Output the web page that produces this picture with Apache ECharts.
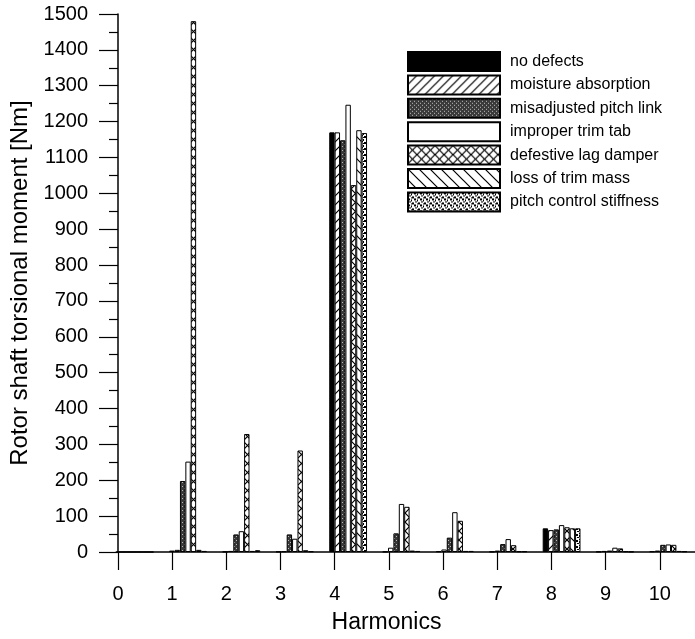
<!DOCTYPE html>
<html>
<head>
<meta charset="utf-8">
<script src="https://cdn.jsdelivr.net/npm/echarts@6/dist/echarts.min.js"></script>
<style>
html,body{margin:0;padding:0;background:#fff;}
#chart{width:695px;height:639px;}
</style>
</head>
<body>
<div id="chart"></div>
<script>
// ---- data ----
const harmonics = ['0','1','2','3','4','5','6','7','8','9','10'];
const xTickLabels = [0,1,2,3,4,5,6,7,8,9,10];
const yTickLabels = [0,100,200,300,400,500,600,700,800,900,1000,1100,1200,1300,1400,1500];
const seriesNames = ['no defects','moisture absorption','misadjusted pitch link','improper trim tab','defestive lag damper','loss of trim mass','pitch control stiffness'];
const noDefects    = [0, 4, 1, 1, 1170, 1, 2, 1, 66, 1, 2];
const moisture     = [0, 6, 3, 2, 1170, 12, 7, 4, 61, 3, 4];
const misadjusted  = [0, 198, 49, 49, 1148, 52, 40, 22, 63, 4, 20];
const improperTab  = [0, 252, 58, 37, 1247, 134, 111, 36, 75, 12, 21];
const lagDamper    = [0, 1480, 329, 283, 1023, 126, 87, 19, 69, 10, 20];
const lossTrimMass = [0, 6, 3, 5, 1176, 4, 3, 2, 66, 2, 3];
const pitchControl = [0, 3, 5, 2, 1168, 3, 3, 2, 66, 1, 2];
const seriesValues = [noDefects, moisture, misadjusted, improperTab, lagDamper, lossTrimMass, pitchControl];

// ---- patterns ----
function makePattern(size, bg, draw){
  const c = document.createElement('canvas');
  c.width = size; c.height = size;
  const ctx = c.getContext('2d');
  ctx.fillStyle = bg; ctx.fillRect(0,0,size,size);
  ctx.strokeStyle = '#000'; ctx.fillStyle = '#000'; ctx.lineWidth = 1.2;
  draw(ctx, size);
  return {image: c, repeat: 'repeat'};
}
function fwd(ctx,s){ ctx.beginPath(); ctx.moveTo(-1,s+1); ctx.lineTo(s+1,-1); ctx.moveTo(-1,1); ctx.lineTo(1,-1); ctx.moveTo(s-1,s+1); ctx.lineTo(s+1,s-1); ctx.stroke(); }
function back(ctx,s){ ctx.beginPath(); ctx.moveTo(-1,-1); ctx.lineTo(s+1,s+1); ctx.moveTo(s-1,-1); ctx.lineTo(s+1,1); ctx.moveTo(-1,s-1); ctx.lineTo(1,s+1); ctx.stroke(); }
const fills = [
  '#000000',
  makePattern(9, '#fff', fwd),
  makePattern(4, '#3a3a3a', function(ctx){ ctx.fillStyle='#bbbbbb'; ctx.fillRect(0,0,1,1); ctx.fillRect(2,2,1,1); }),
  '#ffffff',
  makePattern(9, '#fff', function(ctx,s){ fwd(ctx,s); back(ctx,s); }),
  makePattern(11, '#fff', back),
  makePattern(6, '#fff', function(ctx){ ctx.fillRect(0,0,2,2); ctx.fillRect(3,1,1,2); ctx.fillRect(1,3,2,1); ctx.fillRect(4,4,2,2); ctx.fillRect(3,5,1,1); })
];

const FONT = '"Liberation Sans", Arial, Helvetica, sans-serif';
const chart = echarts.init(document.getElementById('chart'), null, {renderer:'canvas'});

const option = {
  animation: false,
  backgroundColor: '#fff',
  textStyle: {fontFamily: FONT, color: '#000'},
  grid: [
    {left: 118, right: 0, top: 14, bottom: 87, containLabel: false},
    {left: 108, width: 596, top: 14, bottom: 87, containLabel: false}
  ],
  legend: {
    orient: 'vertical', left: 402, top: 46,
    itemWidth: 92, itemHeight: 19, itemGap: 2.4,
    icon: 'rect',
    data: seriesNames,
    textStyle: {fontFamily: FONT, fontSize: 16, lineHeight: 19, color: '#000', padding: [0,0,0,5]}
  },
  xAxis: [
    {
      type: 'value', gridIndex: 0, min: 0, max: 10.65, interval: 1,
      name: 'Harmonics', nameLocation: 'middle', nameGap: 59,
      nameTextStyle: {fontFamily: FONT, fontSize: 23, color: '#000', padding: [0, 40, 0, 0]},
      axisLine: {show: true, lineStyle: {color: '#000', width: 1.5}},
      axisTick: {show: true, length: 18, lineStyle: {color: '#000', width: 1.2}, customValues: xTickLabels},
      axisLabel: {fontFamily: FONT, fontSize: 20, color: '#000', margin: 32, customValues: xTickLabels,
        formatter: function(v){ return String(v); }},
      splitLine: {show: false}
    },
    {type: 'category', gridIndex: 1, data: harmonics, show: false}
  ],
  yAxis: [
    {
      type: 'value', gridIndex: 0, min: 0, max: 1500, interval: 100,
      name: 'Rotor shaft torsional moment [Nm]', nameLocation: 'middle', nameGap: 78,
      nameTextStyle: {fontFamily: FONT, fontSize: 24, color: '#000'},
      axisLine: {show: true, lineStyle: {color: '#000', width: 1.5}},
      axisTick: {show: true, length: 19, lineStyle: {color: '#000', width: 1.2}, customValues: yTickLabels},
      minorTick: {show: true, splitNumber: 2, length: 9, lineStyle: {color: '#000', width: 1.2}},
      axisLabel: {fontFamily: FONT, fontSize: 20, color: '#000', margin: 30, customValues: yTickLabels,
        formatter: function(v){ return String(v); }},
      splitLine: {show: false}
    },
    {type: 'value', gridIndex: 1, min: 0, max: 1500, show: false}
  ],
  series: seriesNames.map(function(name, i){
    return {
      name: name, type: 'bar',
      xAxisIndex: 1, yAxisIndex: 1,
      data: seriesValues[i],
      barWidth: 5.4, barGap: '0%',
      itemStyle: {color: fills[i], borderColor: '#000', borderWidth: 1},
      emphasis: {disabled: true}
    };
  })
};
chart.setOption(option);
</script>
</body>
</html>
